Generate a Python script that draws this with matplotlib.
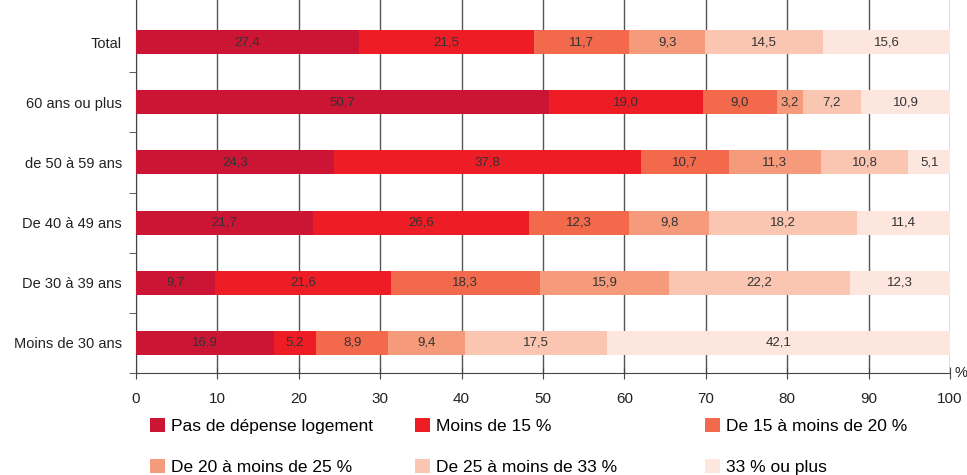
import matplotlib
matplotlib.use('Agg')
import matplotlib.pyplot as plt
import numpy as np

plt.rcParams['font.family'] = ['Liberation Sans Narrow', 'Liberation Sans', 'DejaVu Sans']

# données (de bas en haut)
categories = ['Moins de 30 ans', 'De 30 à 39 ans', 'De 40 à 49 ans',
              'de 50 à 59 ans', '60 ans ou plus', 'Total']
series = ['Pas de dépense logement', 'Moins de 15 %', 'De 15 à moins de 20 %',
          'De 20 à moins de 25 %', 'De 25 à moins de 33 %', '33 % ou plus']
pas_depense = [16.9, 9.7, 21.7, 24.3, 50.7, 27.4]
moins_15 = [5.2, 21.6, 26.6, 37.8, 19.0, 21.5]
de_15_20 = [8.9, 18.3, 12.3, 10.7, 9.0, 11.7]
de_20_25 = [9.4, 15.9, 9.8, 11.3, 3.2, 9.3]
de_25_33 = [17.5, 22.2, 18.2, 10.8, 7.2, 14.5]
plus_33 = [42.1, 12.3, 11.4, 5.1, 10.9, 15.6]
colors = ['#CC1434', '#EE1D25', '#F2694B', '#F59B7B', '#FAC6B1', '#FDE6DD']

values = [pas_depense, moins_15, de_15_20, de_20_25, de_25_33, plus_33]

fig = plt.figure(figsize=(9.67, 4.75), dpi=100)
ax = fig.add_axes([0.1406, 0.2147, 0.8418, 0.7853])

y = np.arange(len(categories))
left = np.zeros(len(categories))
handles = []
for name, vals, c in zip(series, values, colors):
    vals = np.array(vals)
    b = ax.barh(y, vals, left=left, height=0.4, color=c, zorder=3, label=name)
    handles.append(b)
    for yi, l, v in zip(y, left, vals):
        ax.text(l + v / 2, yi, f'{v:.1f}'.replace('.', ','), ha='center', va='center',
                fontsize=9.5, color='#333333', zorder=4)
    left += vals

ax.set_xlim(0, 100)
ax.set_ylim(-0.5, 5.7)
ax.set_xticks(np.arange(0, 101, 10))
ax.set_yticks(y)
ax.set_yticklabels(categories, fontsize=10.5, color='#222222')
ax.set_yticks(np.arange(-0.5, 5, 1), minor=True)
ax.tick_params(axis='y', which='major', length=0, pad=10)
ax.tick_params(axis='y', which='minor', length=5, color='#444444')
ax.tick_params(axis='x', length=8, direction='inout', pad=10, labelsize=11,
               labelcolor='#222222', color='#444444')
ax.grid(axis='x', color='#555555', linewidth=1, zorder=0)
for s in ['top', 'right']:
    ax.spines[s].set_visible(False)
ax.spines['left'].set_color('#444444')
ax.spines['bottom'].set_color('#444444')
ax.text(100.6, -0.5, '%', ha='left', va='center', fontsize=10.5, color='#222222')

# légende : trois colonnes, deux lignes (ordre par ligne)
col_x = [150, 415, 705]
for i, x in enumerate(col_x):
    idx = [i, i + 3]
    fig.legend(handles=[handles[k] for k in idx], labels=[series[k] for k in idx],
               loc='upper left', bbox_to_anchor=(x / 967, 1 - 418 / 475),
               frameon=False, fontsize=12.5, handlelength=0.85, handleheight=0.85,
               handletextpad=0.35, labelspacing=1.45, borderpad=0, borderaxespad=0)

fig.savefig('out.png', dpi=100)
